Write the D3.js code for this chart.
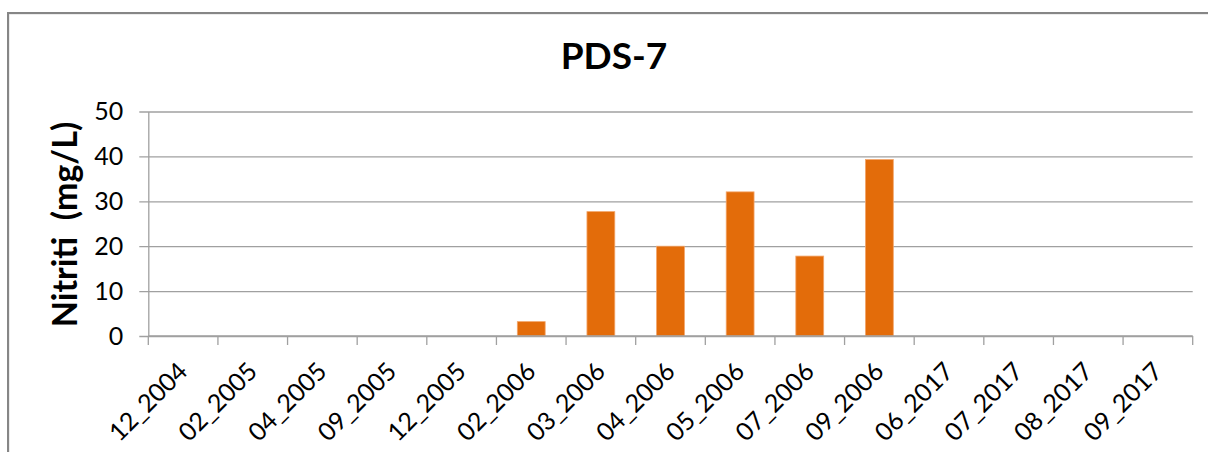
<!DOCTYPE html>
<html>
<head>
<meta charset="utf-8">
<script src="https://cdn.jsdelivr.net/npm/d3@7"></script>
<style>
  html, body { margin: 0; padding: 0; background: #ffffff; }
  svg { display: block; }
</style>
</head>
<body>
<svg id="chart" width="1208" height="452"></svg>
<script>
const title = "PDS-7";
const yTitle = "Nitriti  (mg/L)";
const categories = ["12_2004","02_2005","04_2005","09_2005","12_2005","02_2006","03_2006","04_2006","05_2006","07_2006","09_2006","06_2017","07_2017","08_2017","09_2017"];
const values = [null, null, null, null, null, 3.2, 27.7, 20.0, 32.1, 17.8, 39.3, null, null, null, null];
const yTicks = [0, 10, 20, 30, 40, 50];

const svg = d3.select("#chart");
const W = 1208, H = 452;
const plot = { left: 148.3, right: 1192.7, top: 111.5, bottom: 336 };
const font = "Lato, 'Open Sans', sans-serif";

svg.append("rect").attr("width", W).attr("height", H).attr("fill", "#fff");
// outer frame
svg.append("rect").attr("x", 9).attr("y", 14).attr("width", 1300).attr("height", 600)
  .attr("fill", "none").attr("stroke", "#d9d9d9").attr("stroke-width", 1);
svg.append("rect").attr("x", 8).attr("y", 13).attr("width", 1300).attr("height", 600)
  .attr("fill", "none").attr("stroke", "#868686").attr("stroke-width", 2);

const x = d3.scaleBand().domain(categories).range([plot.left, plot.right])
  .paddingInner(0.6).paddingOuter(0.3);
const y = d3.scaleLinear().domain([0, 50]).range([plot.bottom, plot.top]);

// gridlines + y axis ticks
const yAxis = d3.axisLeft(y).tickValues(yTicks)
  .tickSize(-(plot.right - plot.left)).tickSizeOuter(0).tickPadding(25);
const gy = svg.append("g").attr("transform", `translate(${plot.left},0)`).call(yAxis);
gy.select(".domain").attr("stroke", "#a0a0a0").attr("stroke-width", 1.3);
gy.selectAll(".tick line").attr("stroke", "#a0a0a0").attr("stroke-width", 1.3).attr("x1", -9);
gy.selectAll(".tick text").attr("font-family", font).attr("font-size", 25).attr("fill", "#000");

// bars
const data = categories.map((c, i) => ({ c, v: values[i] })).filter(d => d.v != null);
svg.append("g").selectAll("rect").data(data).join("rect")
  .attr("x", d => x(d.c)).attr("width", x.bandwidth())
  .attr("y", d => y(d.v)).attr("height", d => y(0) - y(d.v))
  .attr("fill", "#e36c0a").attr("stroke", "#f3a56a").attr("stroke-width", 0.8);

// x axis
const step = x.step();
const gx = svg.append("g").attr("transform", `translate(0,${plot.bottom})`);
gx.append("line").attr("x1", plot.left).attr("x2", plot.right).attr("y1", 0).attr("y2", 0)
  .attr("stroke", "#a0a0a0").attr("stroke-width", 1.3);
const bounds = d3.range(categories.length + 1).map(i => plot.left + i * step);
gx.selectAll("line.tk").data(bounds).join("line").attr("class", "tk")
  .attr("x1", d => d).attr("x2", d => d).attr("y1", 0).attr("y2", 9)
  .attr("stroke", "#a0a0a0").attr("stroke-width", 1.3);
gx.selectAll("text").data(categories).join("text")
  .attr("transform", d => `translate(${x(d) + x.bandwidth() / 2 + 6},37) rotate(-45)`)
  .attr("text-anchor", "end").attr("font-family", font).attr("font-size", 25).attr("fill", "#000")
  .text(d => d);

// title
svg.append("text").attr("x", 614).attr("y", 69).attr("text-anchor", "middle")
  .attr("font-family", font).attr("font-weight", "bold").attr("font-size", 37).attr("fill", "#000")
  .text(title);

// y title
svg.append("text").attr("transform", `translate(77,224.5) rotate(-90)`).attr("text-anchor", "middle")
  .attr("font-family", font).attr("font-weight", "bold").attr("font-size", 34).attr("fill", "#000")
  .attr("xml:space", "preserve").style("white-space", "pre")
  .text(yTitle);
</script>
</body>
</html>
